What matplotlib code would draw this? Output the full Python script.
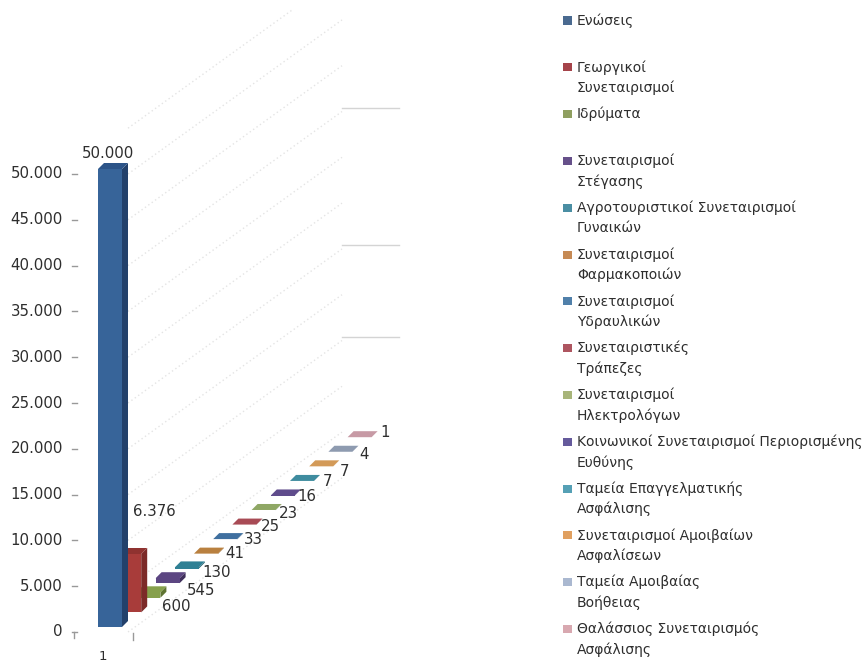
import matplotlib
matplotlib.use("Agg")
import matplotlib.pyplot as plt
from matplotlib.patches import Polygon, Rectangle

W, H = 866, 661

# values
names = ["Ενώσεις", "Γεωργικοί\nΣυνεταιρισμοί", "Ιδρύματα",
         "Συνεταιρισμοί\nΣτέγασης", "Αγροτουριστικοί Συνεταιρισμοί\nΓυναικών",
         "Συνεταιρισμοί\nΦαρμακοποιών", "Συνεταιρισμοί\nΥδραυλικών",
         "Συνεταιριστικές\nΤράπεζες", "Συνεταιρισμοί\nΗλεκτρολόγων",
         "Κοινωνικοί Συνεταιρισμοί Περιορισμένης\nΕυθύνης",
         "Ταμεία Επαγγελματικής\nΑσφάλισης", "Συνεταιρισμοί Αμοιβαίων\nΑσφαλίσεων",
         "Ταμεία Αμοιβαίας\nΒοήθειας", "Θαλάσσιος Συνεταιρισμός\nΑσφάλισης"]
values = [50000, 6376, 600, 545, 130, 41, 33, 25, 23, 16, 7, 7, 4, 1]
yticks = [0, 5000, 10000, 15000, 20000, 25000, 30000, 35000, 40000, 45000, 50000]
wall_lines = [15000, 25000, 40000]

# colours
front = ["#376499", "#a83c3a", "#86a04c", "#5c4682", "#2f8094", "#b9803f", "#3f6f9f",
         "#a84b55", "#8fa765", "#5f4c8c", "#3f8c9f", "#d39a58", "#8e9bb0", "#c79aa5"]
side = ["#23416b", "#7c2a28", "#5f7433", "#40305c", "#205a68", "#82592b", "#2b4e70",
        "#76343b", "#647547", "#423562", "#2c626f", "#94693b", "#63707f", "#8b6b73"]
top_col = ["#2c5488", "#8f3230"]
swatch = ["#4a6a90", "#a5434a", "#8f9f60", "#66508a", "#4a8ea3", "#c68a55", "#5080aa",
          "#ae5560", "#a8b57a", "#655a9c", "#55a0b5", "#e0a060", "#aab8d0", "#d8a8b0"]

# label offsets from the top left corner of each bar, in pixels
label_dx = [10, 37, 40, 45, 42, 41, 40, 38, 37, 36, 38, 35, 36, 37]
label_dy = [16, 42, -14, -12, -5, 0, 0, -2, -4, -1, -1, -5, -3, 5]

# 3d look, all in pixels
PX = 50000 / 458          # value units per pixel
ZERO_PY = 632             # pixel row of value 0
LEFT, STEP_X, STEP_Y = 98, 19.2, 14.6
BAR_W, DEPTH_X, DEPTH_Y = 24, 6, 6
BASE_DROP = 5             # first bar sits this far above the zero tick

fig = plt.figure(figsize=(W / 100, H / 100), dpi=100)
ax = fig.add_axes([0, 0, 1, 1])
ax.set_xlim(0, W)
ax.set_ylim((ZERO_PY - H) * PX, ZERO_PY * PX)
ax.axis("off")

TXT = "#2e2e2e"

# diagonal floor lines then the bits of back wall
for v in yticks + [55000]:
    end = 293 if v > 50000 else 342
    ax.plot([128, end], [v, v + (end - 128) * 0.72 * PX],
            color="#e4e4e4", lw=1, ls=(0, (1, 2)), zorder=1)
for v in wall_lines:
    ax.plot([342, 399], [v + 158 * PX] * 2, color="#d4d4d4", lw=1, zorder=1)

# bars, back to front so the tall ones cover the neighbours behind them
for i in range(len(values) - 1, -1, -1):
    v = values[i]
    x = LEFT + i * STEP_X
    base = (BASE_DROP + i * STEP_Y) * PX
    top = base + v
    dy = DEPTH_Y * PX
    z = 3 + (len(values) - i)
    ax.add_patch(Polygon([(x + BAR_W, base), (x + BAR_W + DEPTH_X, base + dy),
                          (x + BAR_W + DEPTH_X, top + dy), (x + BAR_W, top)],
                         fc=side[i], ec="none", zorder=z))
    ax.add_patch(Polygon([(x, top), (x + BAR_W, top),
                          (x + BAR_W + DEPTH_X, top + dy), (x + DEPTH_X, top + dy)],
                         fc=top_col[i] if i < 2 else front[i], ec="none", zorder=z))
    ax.add_patch(Rectangle((x, base), BAR_W, v, fc=front[i], ec="none", zorder=z))
    ax.annotate(f"{v:,}".replace(",", "."), xy=(x, top), xytext=(label_dx[i], label_dy[i]),
                textcoords="offset pixels", ha="center", va="center",
                fontsize=10.8, color=TXT, zorder=30)

# value axis
for v in yticks:
    ax.text(63, v, f"{v:,}".replace(",", "."), ha="right", va="center",
            fontsize=10.8, color=TXT)
    ax.plot([72, 77], [v, v], color="#999999", lw=1)
ax.plot([73.5, 73.5], [0, -6 * PX], color="#999999", lw=1)
ax.plot([133, 133], [-1 * PX, -8 * PX], color="#999999", lw=1)
ax.text(103, -24 * PX, "1", ha="center", va="center", fontsize=9.5, color=TXT)

# legend
for i, name in enumerate(names):
    py = 20.5 + i * 46.8
    fig.patches.append(Rectangle((563 / W, 1 - (py + 4) / H), 9 / W, 8 / H,
                                 transform=fig.transFigure, fc=swatch[i], ec="none"))
    for j, line in enumerate(name.split("\n")):
        fig.text(577 / W, 1 - (py + j * 20.6) / H, line, ha="left", va="center",
                 fontsize=10, color=TXT)

fig.savefig("out.png", dpi=100)
